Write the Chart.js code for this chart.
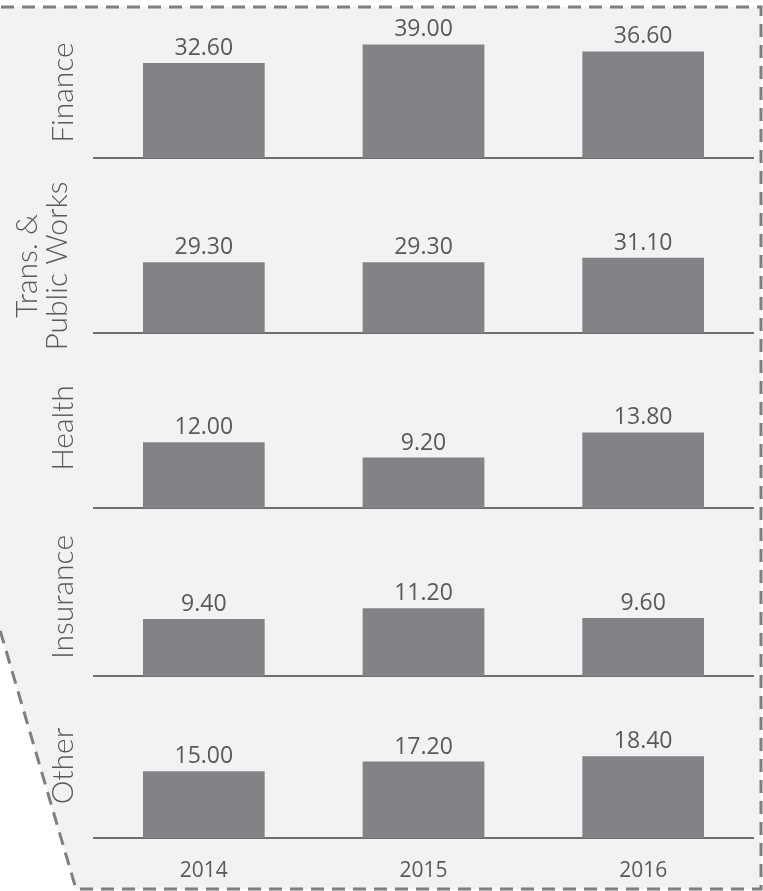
<!DOCTYPE html>
<html>
<head>
<meta charset="utf-8">
<script src="https://cdn.jsdelivr.net/npm/chart.js@4.4.1/dist/chart.umd.min.js"></script>
<style>
  html, body { margin: 0; padding: 0; background: #fff; width: 763px; height: 891px; overflow: hidden; position: relative; }
  svg, canvas { position: absolute; left: 0; }
</style>
</head>
<body>
<svg width="763" height="891" style="top:0">
  <polygon points="-20,7 761,7 761,889 76,889 -20,562" fill="#f2f2f2" stroke="#7f7f7f" stroke-width="3" stroke-dasharray="13 8"/>
</svg>
<script>
// data
const years = ['2014', '2015', '2016'];
const sectors = ['Finance', ['Trans. &', 'Public Works'], 'Health', 'Insurance', 'Other'];
const finance = [32.6, 39.0, 36.6];
const transport = [29.3, 29.3, 31.1];
const health = [12.0, 9.2, 13.8];
const insurance = [9.4, 11.2, 9.6];
const other = [15.0, 17.2, 18.4];
const seriesList = [finance, transport, health, insurance, other];
const yMax = [45, 55.4, 29.2, 26.1, 32.4]; // each panel has its own scale

// layout of the panels (pixels)
const plotTop = [27, 199, 348, 518, 694];
const plotBottom = [158, 333, 508, 676, 838];
const titlePad = [48, 12, 48, 48, 48];
const padTop = 40;

const barColor = '#838287';
const textColor = '#595959';

// value above each bar
const valueLabels = {
  id: 'valueLabels',
  afterDatasetsDraw(chart) {
    const ctx = chart.ctx;
    const values = chart.data.datasets[0].data;
    ctx.save();
    ctx.font = '23px "Open Sans"';
    ctx.fillStyle = textColor;
    ctx.textAlign = 'center';
    ctx.textBaseline = 'alphabetic';
    chart.getDatasetMeta(0).data.forEach((bar, i) => {
      ctx.fillText(values[i].toFixed(2), bar.x, bar.y - 8);
    });
    ctx.restore();
  }
};

seriesList.forEach((values, i) => {
  const isLast = i === seriesList.length - 1;
  const xAxisH = isLast ? 50 : 30; // room below so the rotated label is not cut
  const top = plotTop[i] - padTop;
  const height = plotBottom[i] - top + xAxisH;

  const canvas = document.createElement('canvas');
  canvas.width = 763;
  canvas.height = height;
  canvas.style.top = top + 'px';
  canvas.style.width = '763px';
  canvas.style.height = height + 'px';
  document.body.appendChild(canvas);

  new Chart(canvas.getContext('2d'), {
    type: 'bar',
    data: {
      labels: years,
      datasets: [{
        data: values,
        backgroundColor: barColor,
        categoryPercentage: 1,
        barPercentage: 0.554,
      }],
    },
    options: {
      responsive: false,
      animation: false,
      layout: { padding: { top: padTop, right: 10, left: 0, bottom: 0 } },
      plugins: { legend: { display: false }, tooltip: { enabled: false } },
      scales: {
        x: {
          grid: { display: false },
          border: { display: true, color: '#6e6e6e', width: 2 },
          ticks: { display: isLast, color: textColor, font: { family: 'Open Sans', size: 21 }, padding: 12 },
          afterFit(s) { s.height = xAxisH; },
        },
        y: {
          min: 0,
          max: yMax[i],
          grid: { display: false },
          border: { display: false },
          ticks: { display: false },
          title: {
            display: true,
            text: sectors[i],
            color: textColor,
            font: { family: 'Lato', size: 30, weight: '300', lineHeight: 1.0 },
            padding: { top: titlePad[i], bottom: 0 },
          },
          afterFit(s) { s.width = 94; },
        },
      },
    },
    plugins: [valueLabels],
  });
});
</script>
</body>
</html>
